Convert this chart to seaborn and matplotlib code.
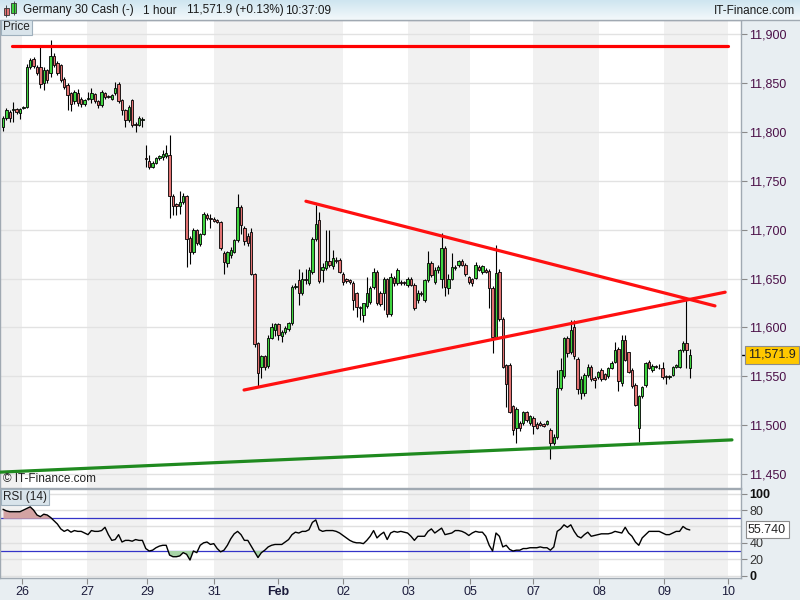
import numpy as np
import pandas as pd
import seaborn as sns
import matplotlib
matplotlib.use("Agg")
from matplotlib import pyplot as plt
from matplotlib import transforms as mtransforms
from matplotlib.patches import Rectangle
from matplotlib.colors import LinearSegmentedColormap

# Germany 30 Cash, 1 hour candles (oldest first)
opens = [
    11805, 11814, 11820, 11822, 11823, 11819, 11824, 11825, 11866, 11874, 11866, 11866, 11850, 11863,
    11860, 11877, 11870, 11868, 11854, 11848, 11840, 11831, 11840, 11834, 11828, 11834, 11834, 11839,
    11831, 11827, 11840, 11837, 11834, 11840, 11849, 11833, 11822, 11812, 11833, 11808, 11807, 11812,
    11773, 11770, 11764, 11768, 11773, 11774, 11775, 11776, 11734, 11726, 11724, 11728, 11734, 11691,
    11677, 11700, 11685, 11696, 11715, 11712, 11711, 11710, 11708, 11676, 11666, 11674, 11677, 11689,
    11723, 11702, 11693, 11698, 11655, 11584, 11560, 11571, 11561, 11589, 11597, 11603, 11591, 11595, 11598,
    11604, 11641, 11648, 11635, 11650, 11645, 11657, 11690, 11710, 11659, 11661, 11668, 11663, 11669,
    11669, 11655, 11649, 11648, 11645, 11635, 11621, 11613, 11622, 11626, 11641, 11657, 11635, 11635,
    11650, 11614, 11651, 11645, 11646, 11646, 11643, 11650, 11643, 11628, 11635, 11628, 11648, 11666, 11646, 11659,
    11650, 11681, 11640, 11650, 11661, 11664, 11668, 11664, 11652, 11650, 11651, 11662, 11657, 11659,
    11658, 11640, 11590, 11657, 11609, 11562, 11562, 11520, 11497, 11502, 11502, 11513, 11502, 11507,
    11501, 11502, 11501, 11501, 11495, 11482, 11488, 11538, 11550, 11589, 11575, 11600, 11568, 11533, 11533, 11551,
    11560, 11548, 11549, 11556, 11552, 11550, 11559, 11565, 11578, 11543, 11587, 11575, 11556, 11541,
    11497, 11530, 11541, 11565, 11556, 11561, 11559, 11558, 11550, 11549, 11551, 11560, 11560, 11577, 11584, 11559,
]
highs = [
    11816, 11824, 11822, 11830, 11824, 11824, 11826, 11869, 11875, 11876, 11868, 11887, 11866, 11864,
    11894, 11881, 11872, 11869, 11856, 11850, 11841, 11843, 11844, 11836, 11834, 11841, 11845, 11840,
    11832, 11843, 11841, 11838, 11839, 11851, 11851, 11834, 11823, 11827, 11834, 11810, 11816, 11815,
    11787, 11776, 11770, 11774, 11776, 11781, 11787, 11797, 11736, 11727, 11739, 11737, 11735, 11693,
    11702, 11701, 11697, 11718, 11717, 11716, 11713, 11711, 11709, 11678, 11678, 11682, 11690, 11736,
    11725, 11704, 11697, 11702, 11656, 11585, 11572, 11572, 11592, 11604, 11605, 11604, 11597, 11601, 11606,
    11643, 11645, 11660, 11657, 11660, 11662, 11692, 11725, 11718, 11666, 11700, 11700, 11679, 11672,
    11671, 11657, 11651, 11649, 11647, 11636, 11622, 11620, 11652, 11642, 11661, 11659, 11637, 11652,
    11651, 11656, 11653, 11661, 11648, 11647, 11652, 11652, 11645, 11638, 11637, 11650, 11678, 11668, 11662, 11664,
    11697, 11683, 11655, 11676, 11664, 11669, 11670, 11666, 11653, 11651, 11667, 11664, 11664, 11661,
    11660, 11642, 11684, 11660, 11611, 11563, 11564, 11521, 11519, 11504, 11515, 11515, 11510, 11509,
    11503, 11504, 11502, 11505, 11497, 11491, 11556, 11569, 11590, 11591, 11608, 11608, 11570, 11550, 11553, 11563,
    11562, 11550, 11555, 11558, 11553, 11560, 11566, 11585, 11580, 11592, 11592, 11575, 11558, 11543,
    11531, 11540, 11565, 11567, 11563, 11562, 11563, 11565, 11551, 11551, 11561, 11563, 11578, 11586, 11630, 11578,
]
lows = [
    11801, 11812, 11810, 11810, 11818, 11813, 11823, 11824, 11864, 11865, 11858, 11845, 11843, 11850,
    11856, 11866, 11858, 11851, 11844, 11822, 11821, 11828, 11826, 11825, 11826, 11832, 11829, 11829,
    11824, 11825, 11834, 11835, 11833, 11838, 11829, 11817, 11805, 11810, 11805, 11800, 11806, 11805,
    11764, 11762, 11763, 11767, 11771, 11771, 11773, 11712, 11715, 11715, 11716, 11726, 11662, 11665,
    11675, 11684, 11683, 11694, 11710, 11702, 11708, 11707, 11679, 11655, 11662, 11671, 11676, 11687,
    11695, 11684, 11683, 11654, 11580, 11540, 11548, 11556, 11558, 11588, 11591, 11587, 11585, 11593, 11596,
    11602, 11639, 11623, 11633, 11644, 11643, 11655, 11688, 11645, 11646, 11659, 11662, 11660, 11666,
    11656, 11643, 11645, 11644, 11618, 11611, 11608, 11606, 11620, 11624, 11639, 11623, 11622, 11618,
    11611, 11612, 11642, 11643, 11643, 11643, 11641, 11642, 11618, 11625, 11632, 11626, 11646, 11652, 11644, 11656,
    11640, 11632, 11634, 11648, 11659, 11662, 11663, 11653, 11644, 11642, 11649, 11658, 11655, 11656,
    11620, 11574, 11588, 11607, 11558, 11519, 11512, 11490, 11482, 11494, 11500, 11503, 11500, 11491,
    11496, 11499, 11498, 11500, 11465, 11480, 11486, 11536, 11548, 11570, 11573, 11568, 11532, 11527, 11530, 11549,
    11545, 11538, 11547, 11545, 11546, 11548, 11557, 11564, 11535, 11540, 11566, 11553, 11538, 11520,
    11483, 11528, 11539, 11557, 11554, 11559, 11557, 11547, 11542, 11547, 11550, 11558, 11558, 11575, 11558, 11548,
]
closes = [
    11814, 11822, 11814, 11823, 11820, 11823, 11825, 11866, 11873, 11867, 11860, 11849, 11863, 11853,
    11877, 11868, 11860, 11853, 11846, 11838, 11828, 11841, 11829, 11828, 11833, 11834, 11840, 11831,
    11827, 11841, 11836, 11836, 11838, 11845, 11831, 11822, 11812, 11825, 11807, 11807, 11814, 11813,
    11772, 11764, 11768, 11773, 11775, 11777, 11778, 11734, 11724, 11724, 11728, 11734, 11690, 11677,
    11700, 11686, 11696, 11716, 11712, 11711, 11709, 11708, 11681, 11667, 11677, 11679, 11689, 11723,
    11705, 11688, 11686, 11655, 11583, 11553, 11571, 11560, 11589, 11600, 11603, 11592, 11595, 11599, 11604,
    11641, 11642, 11635, 11650, 11648, 11659, 11690, 11706, 11647, 11662, 11668, 11664, 11671, 11668,
    11657, 11646, 11647, 11646, 11628, 11621, 11620, 11625, 11635, 11640, 11657, 11625, 11624, 11650,
    11614, 11652, 11645, 11659, 11645, 11645, 11650, 11643, 11620, 11635, 11634, 11648, 11666, 11654, 11659, 11662,
    11681, 11641, 11650, 11662, 11662, 11668, 11664, 11655, 11646, 11645, 11664, 11659, 11663, 11657,
    11640, 11590, 11656, 11609, 11560, 11542, 11514, 11495, 11517, 11497, 11513, 11505, 11509, 11499,
    11497, 11500, 11499, 11504, 11482, 11488, 11538, 11556, 11589, 11574, 11597, 11571, 11537, 11547, 11551, 11560,
    11547, 11546, 11554, 11547, 11547, 11558, 11564, 11577, 11545, 11587, 11567, 11554, 11540, 11521,
    11530, 11539, 11564, 11558, 11561, 11560, 11558, 11549, 11549, 11550, 11560, 11562, 11577, 11584, 11577, 11571.9,
]
# RSI(14), one value per candle
rsi = [
    81, 79, 78, 78, 78, 78, 80, 82, 84, 80, 74, 72, 75, 74, 71, 67, 63, 57, 54, 56, 53, 55, 54, 54, 52,
    50, 55, 54, 54, 55, 59, 50, 43, 44, 50, 41, 43, 43, 42, 44, 43, 43, 33, 30, 31, 34, 36, 37, 37, 25,
    23, 23, 24, 28, 26, 19, 30, 28, 37, 40, 41, 38, 39, 33, 29, 31, 37, 45, 51, 54, 50, 43, 43, 36, 29,
    22, 28, 31, 35, 37, 38, 38, 38, 41, 44, 50, 53, 52, 54, 54, 56, 65, 68, 56, 54, 55, 55, 55, 54, 52,
    49, 46, 43, 41, 40, 40, 39, 43, 48, 55, 46, 50, 53, 44, 52, 54, 53, 54, 53, 52, 48, 43, 48, 48, 48,
    54, 57, 52, 55, 58, 50, 51, 52, 55, 55, 54, 52, 49, 52, 54, 53, 53, 48, 37, 30, 52, 48, 35, 37, 32,
    30, 31, 31, 33, 33, 34, 34, 34, 35, 34, 34, 31, 35, 54, 57, 62, 59, 62, 54, 48, 46, 50, 53, 48, 49,
    50, 51, 51, 51, 52, 54, 53, 52, 59, 52, 48, 41, 37, 46, 50, 54, 54, 54, 54, 52, 50, 50, 52, 54, 54,
    60, 57, 55.74,
]

# day labels and where each day starts on the candle axis
day_labels = ["26", "27", "29", "31", "Feb", "02", "03", "05", "07", "08", "09", "10"]
day_starts = [5.6, 24.7, 42.3, 62.1, 81.0, 100.1, 119.2, 137.4, 156.0, 175.3, 194.5, 213.3]
shaded_days = [(-1, 5.6), (24.7, 42.3), (62.1, 100.1), (119.2, 137.4), (156.0, 175.3), (194.5, 213.3)]

# hand drawn lines: (candle x, price)
resist_x, resist_y = [2.6, 213.2], [11888, 11888]
upper_x, upper_y = [89.1, 209.4], [11729, 11622]
lower_x, lower_y = [70.9, 212.4], [11536, 11636]
support_x, support_y = [-0.9, 214.4], [11452, 11485]

df = pd.DataFrame({"open": opens, "high": highs, "low": lows, "close": closes, "rsi": rsi})
df["i"] = np.arange(len(df))

sns.set_theme(style="white")
plt.rcParams["font.family"] = ["Liberation Sans", "DejaVu Sans"]

W, H = 800, 600
fx = lambda px: px / W
fy = lambda py: 1 - py / H

fig = plt.figure(figsize=(8, 6), dpi=100, facecolor="#e8eef2")
ax = fig.add_axes([0, fy(488), fx(741), (488 - 20) / H])
ax2 = fig.add_axes([0, fy(578), fx(741), (578 - 489) / H])
hdr = fig.add_axes([0, fy(20), 1, 20 / H])

XMIN, XMAX = -0.88, 217.06
GREEN, RED = "#3fd43f", "#e27272"
edge = "#a0a9b2"

for a in (ax, ax2):
    a.set_facecolor("white")
    a.set_xlim(XMIN, XMAX)
    for s0, s1 in shaded_days:
        a.axvspan(s0, s1, color="#f1f1f1", lw=0, zorder=0)
    for sp in a.spines.values():
        sp.set_color(edge)
        sp.set_linewidth(1)
    a.set_xticks([])

# price panel
ax.set_ylim(11435.8, 11914.3)
price_ticks = np.arange(11450, 11901, 50)
for t in price_ticks:
    ax.axhline(t, color="#e2e2e2", lw=1, zorder=1)

up = df["close"] >= df["open"]
ax.vlines(df["i"], df["low"], df["high"], color="black", lw=0.8, zorder=2)
ax.bar(df["i"], (df["close"] - df["open"]).where((df["close"] - df["open"]).abs() > 0.5, 0.6),
       bottom=df["open"], width=0.72, color=np.where(up, GREEN, RED),
       edgecolor="black", linewidth=0.6, zorder=3)

sns.lineplot(x=resist_x, y=resist_y, ax=ax, color="#ff0000", lw=2.3, zorder=5)
sns.lineplot(x=upper_x, y=upper_y, ax=ax, color="#ff1010", lw=2.3, zorder=5)
sns.lineplot(x=lower_x, y=lower_y, ax=ax, color="#ff1010", lw=2.3, zorder=5)
sns.lineplot(x=support_x, y=support_y, ax=ax, color="#1f8a1f", lw=2.3, zorder=5)

ax.yaxis.tick_right()
ax.set_yticks(price_ticks)
ax.set_yticklabels([f"{t:,.0f}" for t in price_ticks])
ax.tick_params(axis="y", right=True, length=4, width=0.8, color="#8a8a8a",
               labelsize=9, labelcolor="#4b1048", pad=2)
ax.set_xlabel("")
ax.set_ylabel("")

# RSI panel
ax2.set_ylim(-3.0, 105.8)
for t in [0, 20, 40, 60, 80, 100]:
    ax2.axhline(t, color="#e0e0e0", lw=1, zorder=1)
ax2.axhline(70, color="#3434c8", lw=0.9, zorder=2)
ax2.axhline(30, color="#3434c8", lw=0.9, zorder=2)
r = df["rsi"].to_numpy(dtype=float)
ax2.fill_between(df["i"], r, 70, where=r >= 70, interpolate=True, color="#d3a3a3", lw=0, zorder=2)
ax2.fill_between(df["i"], r, 30, where=r <= 30, interpolate=True, color="#a6d3a6", lw=0, zorder=2)
sns.lineplot(data=df, x="i", y="rsi", ax=ax2, color="black", lw=1.0, zorder=4)
ax2.set_xlabel("")
ax2.set_ylabel("")
ax2.yaxis.tick_right()
ax2.set_yticks([0, 20, 40, 80, 100])
ax2.set_yticklabels(["0", "20", "40", "80", "100"])
ax2.tick_params(axis="y", right=True, length=4, width=0.8, color="#8a8a8a",
                labelsize=9, labelcolor="#333333", pad=2)
for lab in ax2.get_yticklabels():
    if lab.get_text() in ("0", "100"):
        lab.set_fontweight("bold")
        lab.set_color("#111111")

ax2.set_xticks(day_starts)
ax2.set_xticklabels(day_labels)
ax2.tick_params(axis="x", bottom=True, length=4, width=0.8, color="#8a8a8a",
                labelsize=9, labelcolor="#1c1c3c", pad=2)
for lab in ax2.get_xticklabels():
    if lab.get_text() == "Feb":
        lab.set_fontweight("bold")

# value tags on the right scale
tp = mtransforms.blended_transform_factory(fig.transFigure, ax.transData)
fig.text(fx(748), closes[-1], f"{closes[-1]:,.1f}", transform=tp, va="center", ha="left",
         fontsize=9, color="#222222",
         bbox=dict(boxstyle="square,pad=0.22", fc="#ffc800", ec="#8c8c8c", lw=0.8))
ax.hlines(closes[-1], XMAX, XMAX + 1.8, color="black", lw=1, clip_on=False)
tr = mtransforms.blended_transform_factory(fig.transFigure, ax2.transData)
fig.text(fx(748), rsi[-1], f"{rsi[-1]:.3f}", transform=tr, va="center", ha="left",
         fontsize=9, color="#222222",
         bbox=dict(boxstyle="square,pad=0.2", fc="white", ec="#8c8c8c", lw=0.8))

# panel captions
fig.text(fx(3), fy(27.5), "Price", fontsize=8.5, va="center", ha="left", color="#222222",
         bbox=dict(boxstyle="square,pad=0.15", fc="#d9e4eb", ec="#9fb0bd", lw=0.8))
fig.text(fx(3), fy(479), "\u00a9 IT-Finance.com", fontsize=8.5, va="center", ha="left", color="#222222")
fig.text(fx(3), fy(497), "RSI (14)", fontsize=8.5, va="center", ha="left", color="#222222",
         bbox=dict(boxstyle="square,pad=0.15", fc="#d9e4eb", ec="#9fb0bd", lw=0.8))

# header bar
grad = LinearSegmentedColormap.from_list("hdr", ["#cfe5f0", "#f3f9fb"])
hdr.imshow(np.linspace(0, 1, 20).reshape(-1, 1), cmap=grad, aspect="auto", extent=[0, W, 20, 0])
hdr.set_xlim(0, W)
hdr.set_ylim(20, 0)
hdr.axis("off")
hdr.add_patch(Rectangle((3.5, 8), 5, 7, fc="#e27272", ec="#333333", lw=0.6))
hdr.vlines(6, 5, 17, color="#333333", lw=0.6)
hdr.add_patch(Rectangle((11, 3), 5, 10, fc="#3fd43f", ec="#333333", lw=0.6))
hdr.vlines(13.5, 1, 15, color="#333333", lw=0.6)
for x0, txt in [(23, "Germany 30 Cash (-)"), (143, "1 hour"), (187, "11,571.9 (+0.13%)"), (285, "10:37:09")]:
    hdr.text(x0, 10.5, txt, fontsize=8.5, va="center", ha="left", color="#1a1a1a")
hdr.text(795, 10.5, "IT-Finance.com", fontsize=8.5, va="center", ha="right", color="#1a1a1a")
fig.add_artist(plt.Line2D([0, 1], [fy(20), fy(20)], color=edge, lw=1))

fig.savefig("out.png", dpi=100, facecolor=fig.get_facecolor())
